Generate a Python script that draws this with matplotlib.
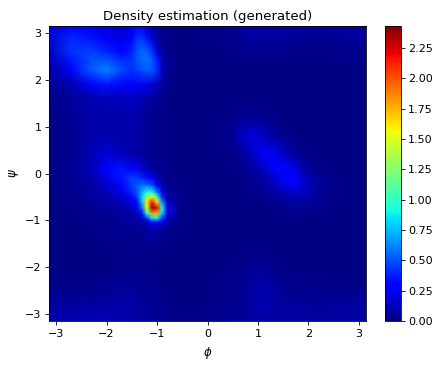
import numpy as np
import matplotlib
matplotlib.use('Agg')
import matplotlib.pyplot as plt

# grid nodes, denser around the sharp peak and the right hand streak
phi = [-3.14,-2.7,-2.3,-2.0,-1.7,-1.5,-1.4,-1.3,-1.2,-1.1,-1.0,-0.9,-0.8,-0.55,-0.2,
       0.1,0.5,0.7,0.9,1.1,1.3,1.5,1.7,1.9,2.2,2.7,3.14]
psi = [-3.14,-2.8,-2.4,-2.0,-1.5,-1.15,-1.03,-0.95,-0.85,-0.73,-0.6,-0.5,-0.4,-0.25,-0.1,
       0.1,0.4,0.8,1.2,1.6,1.9,2.2,2.4,2.6,2.85,3.14]

# density, one row per psi (bottom to top)
density = [
[.10,.11,.12,.11,.10,.10,.09,.08,.07,.06,.05,.04,.03,.02,.02, .03,.04,.06,.08,.08,.08,.08,.08,.07,.07,.08,.10],
[.07,.07,.07,.08,.09,.08,.07,.06,.05,.05,.04,.03,.02,.01,.01, .02,.03,.05,.09,.11,.09,.07,.06,.06,.05,.06,.08],
[.02,.02,.02,.04,.05,.05,.04,.04,.03,.03,.02,.02,.01,.01,.01, .02,.03,.05,.08,.10,.07,.04,.03,.03,.03,.02,.02],
[.01,.01,.01,.01,.02,.02,.02,.02,.02,.02,.01,.01,.01,.01,.01, .01,.02,.03,.05,.04,.02,.02,.01,.01,.01,.01,.01],
[.01,.01,.01,.02,.02,.02,.02,.03,.03,.03,.02,.02,.01,.01,.01, .01,.01,.01,.01,.01,.01,.01,.01,.01,.01,.01,.01],
[.01,.01,.02,.03,.04,.05,.05,.06,.08,.11,.11,.08,.05,.02,.01, .01,.01,.01,.01,.01,.01,.01,.01,.01,.01,.01,.01],
[.01,.01,.02,.04,.05,.06,.07,.10,.16,.28,.30,.20,.09,.02,.01, .01,.01,.01,.01,.01,.01,.01,.01,.02,.01,.01,.01],
[.01,.01,.03,.04,.06,.08,.10,.16,.40,.85,.90,.45,.14,.03,.01, .01,.01,.01,.01,.01,.01,.01,.02,.02,.01,.01,.01],
[.01,.01,.03,.05,.07,.10,.14,.30,.95,1.75,1.75,.80,.20,.03,.01, .01,.01,.01,.01,.01,.01,.02,.03,.02,.01,.01,.01],
[.01,.02,.04,.06,.09,.15,.22,.55,1.55,2.43,2.2,.95,.24,.03,.01, .01,.01,.01,.01,.01,.02,.03,.05,.05,.03,.01,.01],
[.01,.02,.05,.08,.13,.22,.32,.75,1.6,2.15,1.65,.65,.16,.03,.01, .01,.01,.01,.01,.02,.03,.05,.08,.08,.04,.01,.01],
[.01,.02,.06,.09,.17,.30,.42,.80,1.3,1.5,1.05,.40,.10,.02,.01, .01,.01,.01,.02,.03,.05,.08,.12,.11,.05,.01,.01],
[.01,.03,.07,.11,.22,.38,.50,.72,.95,.95,.62,.24,.07,.02,.01, .01,.01,.02,.02,.04,.07,.12,.17,.15,.05,.01,.01],
[.01,.03,.07,.16,.30,.45,.52,.58,.58,.50,.30,.13,.05,.01,.01, .01,.01,.02,.03,.06,.12,.20,.26,.17,.06,.01,.01],
[.02,.04,.08,.22,.36,.45,.45,.40,.33,.24,.13,.06,.03,.01,.01, .01,.01,.02,.04,.08,.16,.26,.30,.16,.05,.01,.01],
[.02,.04,.13,.30,.36,.30,.25,.18,.12,.08,.05,.03,.02,.01,.01, .01,.02,.03,.07,.14,.26,.32,.24,.09,.03,.01,.01],
[.02,.04,.12,.20,.14,.10,.08,.06,.05,.04,.03,.02,.02,.01,.01, .01,.02,.06,.15,.26,.28,.17,.07,.03,.01,.01,.01],
[.02,.04,.09,.10,.09,.09,.08,.06,.05,.04,.03,.02,.02,.01,.01, .01,.05,.15,.20,.15,.07,.03,.02,.01,.01,.01,.01],
[.02,.05,.10,.09,.10,.10,.09,.07,.05,.04,.03,.02,.02,.01,.01, .01,.02,.05,.05,.03,.02,.01,.01,.01,.01,.01,.01],
[.03,.06,.11,.12,.13,.14,.13,.11,.09,.07,.05,.03,.02,.01,.01, .01,.01,.01,.01,.01,.01,.01,.01,.01,.01,.01,.01],
[.04,.10,.28,.36,.32,.28,.27,.25,.22,.18,.12,.06,.03,.01,.01, .01,.01,.01,.01,.01,.01,.01,.01,.01,.01,.01,.01],
[.07,.25,.52,.62,.48,.42,.45,.50,.52,.50,.42,.15,.05,.01,.01, .01,.01,.01,.01,.01,.01,.01,.01,.01,.01,.01,.01],
[.10,.35,.50,.52,.42,.42,.50,.55,.57,.52,.38,.12,.05,.01,.01, .01,.01,.02,.02,.02,.02,.02,.01,.01,.01,.02,.03],
[.14,.42,.46,.38,.30,.38,.50,.56,.55,.42,.20,.07,.03,.01,.01, .01,.02,.03,.04,.03,.03,.03,.02,.02,.02,.03,.04],
[.18,.40,.36,.27,.22,.30,.43,.45,.36,.20,.09,.04,.02,.01,.01, .02,.03,.05,.07,.07,.06,.06,.05,.04,.04,.05,.06],
[.18,.27,.24,.18,.15,.20,.27,.24,.16,.10,.05,.03,.02,.01,.02, .03,.05,.07,.09,.09,.08,.08,.07,.06,.06,.07,.09],
]
vmax = 2.43

w, h = 440, 367
fig = plt.figure(figsize=(w/100, h/100), dpi=100)
ax = fig.add_axes([49/w, 1-321/h, 317/w, 295/h])
mesh = ax.pcolormesh(phi, psi, np.array(density), cmap='jet', shading='gouraud', vmin=0, vmax=vmax, rasterized=True)
ax.set_xlim(-3.14, 3.14)
ax.set_ylim(-3.14, 3.14)
ax.set_title('Density estimation (generated)', fontsize=9.5, pad=4)
ax.set_xlabel(r'$\phi$', fontsize=8.5, labelpad=4.5)
ax.set_ylabel(r'$\psi$', fontsize=8.5, labelpad=2.5)
ax.tick_params(labelsize=8, length=3, width=0.6, pad=2.5)

cax = fig.add_axes([385/w, 1-321/h, 15.5/w, 295/h])
cb = fig.colorbar(mesh, cax=cax)
cb.set_ticks(np.arange(0, 2.5, 0.25))
cb.ax.tick_params(labelsize=8, length=3, width=0.6, pad=2.5)

for s in list(ax.spines.values()) + list(cax.spines.values()):
    s.set_linewidth(0.6)

fig.savefig('out.png', dpi=100)
